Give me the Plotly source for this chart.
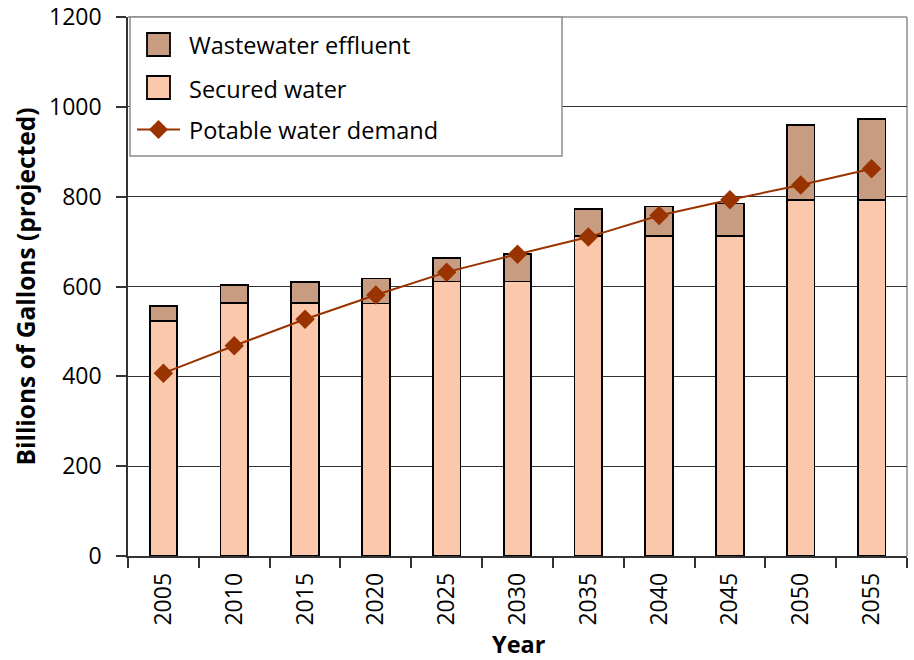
import plotly.graph_objects as go

years = ["2005", "2010", "2015", "2020", "2025", "2030", "2035", "2040", "2045", "2050", "2055"]
secured_water = [524, 564, 564, 562, 611, 611, 712, 712, 712, 793, 793]
wastewater_effluent = [33, 39, 46, 56, 53, 61, 60, 66, 73, 166, 180]
potable_demand = [407, 468, 527, 581, 632, 672, 710, 758, 793, 826, 862]

legend_labels = ["Wastewater effluent", "Secured water", "Potable water demand"]

FONT = "Open Sans"
SECURED_COLOR = "#FCC8AC"
EFFLUENT_COLOR = "#C89C80"
DEMAND_COLOR = "#993300"
FRAME_GRAY = "#8c8c8c"

# plot-area geometry in pixels
W, H = 914, 660
L, R, T, B = 128, 7, 17, 104
PW, PH = W - L - R, H - T - B


def px(x):
    return (x - L) / PW


def py(y):
    return (H - B - y) / PH


fig = go.Figure()

fig.add_trace(go.Bar(
    x=years, y=secured_water, name=legend_labels[1],
    marker=dict(color=SECURED_COLOR, line=dict(color="black", width=1.8)),
    width=0.39,
))
fig.add_trace(go.Bar(
    x=years, y=wastewater_effluent, name=legend_labels[0],
    marker=dict(color=EFFLUENT_COLOR, line=dict(color="black", width=1.8)),
    width=0.39,
))
fig.add_trace(go.Scatter(
    x=years, y=potable_demand, name=legend_labels[2],
    mode="lines+markers",
    line=dict(color=DEMAND_COLOR, width=2),
    marker=dict(symbol="diamond", size=15, color=DEMAND_COLOR),
))

shapes = []
# top and right plot border
shapes.append(dict(type="line", xref="paper", yref="paper", x0=0, x1=1, y0=1, y1=1,
                   line=dict(color=FRAME_GRAY, width=1.5), layer="below"))
shapes.append(dict(type="line", xref="paper", yref="paper", x0=1, x1=1, y0=0, y1=1,
                   line=dict(color=FRAME_GRAY, width=1.5), layer="below"))

# legend box
shapes.append(dict(type="rect", xref="paper", yref="paper",
                   x0=px(130), x1=px(562), y0=py(156), y1=py(17),
                   fillcolor="white", line=dict(color=FRAME_GRAY, width=1.5), layer="above"))
# legend swatches
for yc, col in [(44.5, EFFLUENT_COLOR), (87.5, SECURED_COLOR)]:
    shapes.append(dict(type="rect", xref="paper", yref="paper",
                       x0=px(147), x1=px(170), y0=py(yc + 11.5), y1=py(yc - 11.5),
                       fillcolor=col, line=dict(color="black", width=1.8), layer="above"))
# legend line + diamond
shapes.append(dict(type="line", xref="paper", yref="paper",
                   x0=px(137), x1=px(180), y0=py(129.5), y1=py(129.5),
                   line=dict(color=DEMAND_COLOR, width=2), layer="above"))
cx, cy, r = 158.5, 129.5, 9.5
diamond = "M {} {} L {} {} L {} {} L {} {} Z".format(
    px(cx), py(cy - r), px(cx + r), py(cy), px(cx), py(cy + r), px(cx - r), py(cy))
shapes.append(dict(type="path", xref="paper", yref="paper", path=diamond,
                   fillcolor=DEMAND_COLOR, line=dict(color=DEMAND_COLOR, width=0), layer="above"))

annotations = []
for label, yc in zip(legend_labels, [45.5, 88.5, 130.5]):
    annotations.append(dict(
        xref="paper", yref="paper", x=px(187), y=py(yc), xanchor="left", yanchor="middle",
        text=label, showarrow=False, font=dict(family=FONT, size=23.5, color="black"),
    ))
# x-axis title
annotations.append(dict(
    xref="paper", yref="paper", x=px(519), y=py(644), xanchor="center", yanchor="middle",
    text="<b>Year</b>", showarrow=False, borderpad=0,
    font=dict(family=FONT, size=23.5, color="black"),
))

fig.update_layout(
    width=W, height=H,
    margin=dict(l=L, r=R, t=T, b=B, autoexpand=False),
    paper_bgcolor="white", plot_bgcolor="white",
    barmode="stack",
    font=dict(family=FONT, size=23, color="black"),
    showlegend=False,
    shapes=shapes,
    annotations=annotations,
    xaxis=dict(
        type="category", range=[-0.5, len(years) - 0.5], tickangle=-90, tickson="boundaries",
        ticks="outside", ticklen=10, tickcolor="#333", tickwidth=1.5,
        showline=True, linecolor="#333", linewidth=1.5,
        showgrid=False, automargin=False, ticklabelstandoff=6,
        tickfont=dict(family=FONT, size=23),
    ),
    yaxis=dict(
        range=[0, 1200], dtick=200,
        ticks="outside", ticklen=10, tickcolor="#333", tickwidth=1.5,
        showline=True, linecolor="#333", linewidth=1.5,
        showgrid=True, gridcolor="#333", gridwidth=1,
        zeroline=False, automargin=False, ticklabelstandoff=10,
        title=dict(text="<b>Billions of Gallons (projected)</b>", font=dict(family=FONT, size=24.5), standoff=6),
        tickfont=dict(family=FONT, size=23),
    ),
)

fig.write_html("out.html")
